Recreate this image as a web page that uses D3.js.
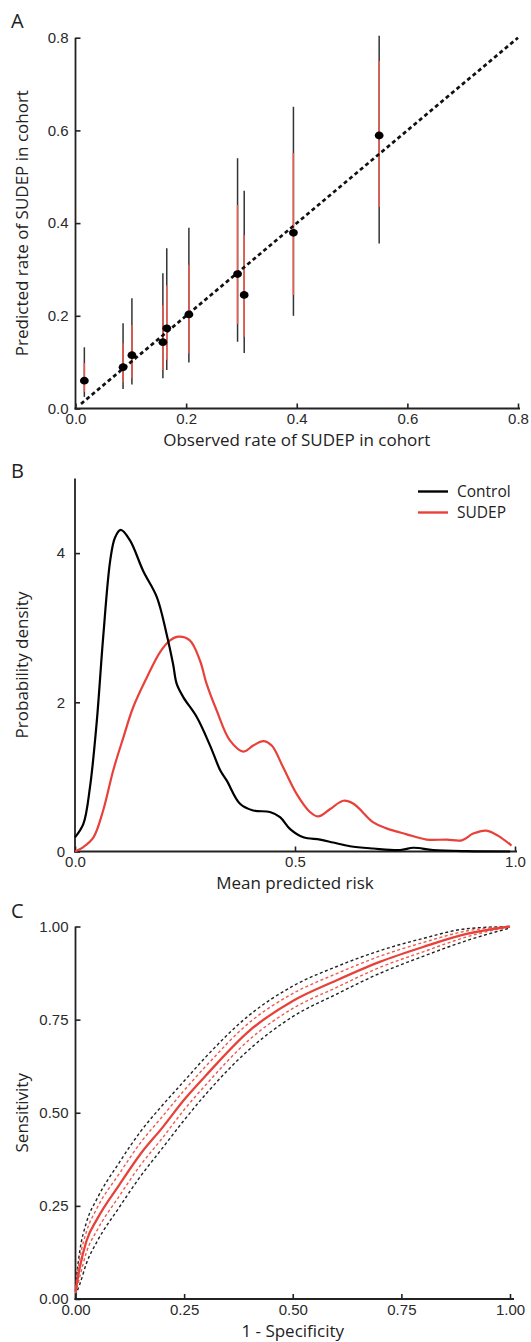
<!DOCTYPE html>
<html>
<head>
<meta charset="utf-8">
<script src="https://cdn.jsdelivr.net/npm/d3@7"></script>
<style>
  html, body { margin: 0; padding: 0; background: #fff; }
  svg { display: block; font-family: "Open Sans", "Noto Sans", sans-serif; }
  .tick text { font-size: 15px; fill: #2a2a2a; }
  .tick line { stroke: #222; stroke-width: 1.6; }
  .axlabel { font-size: 17px; fill: #222; }
  .legend { font-size: 15.5px; fill: #222; }
  .panel { font-size: 20px; fill: #222; }
</style>
</head>
<body>
<svg id="chart" width="531" height="1342"></svg>
<script>
// ---------- Panel A: calibration ----------
const obsRate   = [0.016, 0.086, 0.102, 0.158, 0.165, 0.205, 0.293, 0.305, 0.394, 0.549];
const predRate  = [0.060, 0.089, 0.115, 0.143, 0.173, 0.203, 0.290, 0.245, 0.379, 0.589];
const outerLow  = [0.025, 0.042, 0.052, 0.065, 0.083, 0.099, 0.144, 0.120, 0.200, 0.356];
const outerHigh = [0.132, 0.184, 0.238, 0.292, 0.346, 0.390, 0.540, 0.470, 0.651, 0.804];
const innerLow  = [0.036, 0.056, 0.066, 0.083, 0.105, 0.119, 0.182, 0.155, 0.245, 0.435];
const innerHigh = [0.098, 0.141, 0.180, 0.223, 0.266, 0.310, 0.439, 0.374, 0.551, 0.750];
const identityLine = [0.01, 0.80];
const aTicks = [0, 0.2, 0.4, 0.6, 0.8];

// ---------- Panel B: densities ----------
const controlX = [0.0, 0.019, 0.034, 0.049, 0.064, 0.080, 0.091, 0.104, 0.125, 0.155, 0.186, 0.208, 0.223, 0.231, 0.246, 0.277, 0.307, 0.330, 0.345, 0.375, 0.405, 0.443, 0.466, 0.489, 0.519, 0.557, 0.587, 0.625, 0.678, 0.739, 0.769, 0.814, 0.890, 0.989];
const controlY = [0.19, 0.37, 0.86, 1.71, 2.87, 3.90, 4.21, 4.31, 4.17, 3.76, 3.41, 2.92, 2.51, 2.25, 2.07, 1.80, 1.42, 1.09, 0.95, 0.64, 0.55, 0.53, 0.46, 0.30, 0.19, 0.16, 0.12, 0.07, 0.04, 0.02, 0.05, 0.02, 0.005, 0.0];
const sudepX = [0.0, 0.019, 0.042, 0.064, 0.087, 0.110, 0.132, 0.163, 0.193, 0.216, 0.235, 0.261, 0.284, 0.299, 0.322, 0.352, 0.383, 0.405, 0.428, 0.447, 0.473, 0.504, 0.534, 0.553, 0.580, 0.610, 0.633, 0.678, 0.708, 0.754, 0.799, 0.845, 0.879, 0.905, 0.935, 0.962, 0.992];
const sudepY = [0.0, 0.06, 0.19, 0.55, 1.09, 1.53, 1.93, 2.33, 2.67, 2.83, 2.88, 2.83, 2.56, 2.25, 1.89, 1.49, 1.34, 1.42, 1.48, 1.42, 1.13, 0.77, 0.53, 0.47, 0.57, 0.68, 0.64, 0.39, 0.31, 0.23, 0.16, 0.16, 0.15, 0.24, 0.28, 0.21, 0.08];
const bXTicks = [0, 0.5, 1.0];
const bYTicks = [0, 2, 4];
const legendNames = ["Control", "SUDEP"];

// ---------- Panel C: ROC ----------
const rocFpr     = [0, 0.01, 0.025, 0.05, 0.1, 0.15, 0.2, 0.25, 0.3, 0.4, 0.5, 0.6, 0.7, 0.8, 0.9, 1.0];
const rocMean    = [0.020, 0.085, 0.155, 0.215, 0.305, 0.390, 0.460, 0.535, 0.600, 0.720, 0.800, 0.855, 0.905, 0.945, 0.980, 1.000];
const rocRedHi   = [0.030, 0.110, 0.180, 0.245, 0.335, 0.420, 0.490, 0.560, 0.625, 0.742, 0.820, 0.873, 0.920, 0.957, 0.988, 1.000];
const rocRedLo   = [0.015, 0.060, 0.125, 0.185, 0.275, 0.360, 0.432, 0.508, 0.575, 0.696, 0.780, 0.836, 0.890, 0.932, 0.972, 1.000];
const rocBlackHi = [0.035, 0.130, 0.205, 0.270, 0.365, 0.450, 0.520, 0.585, 0.650, 0.762, 0.840, 0.892, 0.935, 0.968, 0.994, 1.000];
const rocBlackLo = [0.010, 0.040, 0.095, 0.155, 0.245, 0.330, 0.405, 0.480, 0.550, 0.670, 0.758, 0.818, 0.874, 0.920, 0.962, 0.996];
const cTicks = [0, 0.25, 0.5, 0.75, 1.0];

const RED = "#e8413a";
const RED_LIGHT = "#ee5a4e";
const INK = "#222";

const svg = d3.select("#chart");

function drawAxes(g, x, y, xTicks, yTicks, xFmt, yFmt, xExt, yPad) {
  const xa = d3.axisBottom(x).tickValues(xTicks).tickFormat(xFmt)
    .tickSizeInner(-5).tickSizeOuter(0).tickPadding(5);
  const ya = d3.axisLeft(y).tickValues(yTicks).tickFormat(yFmt)
    .tickSizeInner(-5).tickSizeOuter(0).tickPadding(yPad);
  const gx = g.append("g").attr("transform", `translate(0,${y.range()[0]})`).call(xa);
  const gy = g.append("g").attr("transform", `translate(${x.range()[0]},0)`).call(ya);
  gx.select(".domain").remove();
  gy.select(".domain").remove();
  gx.selectAll(".tick text").attr("dy", "0.71em");
  g.append("line")
    .attr("x1", x.range()[0] - 1).attr("x2", x.range()[1] + xExt)
    .attr("y1", y.range()[0]).attr("y2", y.range()[0])
    .attr("stroke", INK).attr("stroke-width", 1.8);
  g.append("line")
    .attr("x1", x.range()[0]).attr("x2", x.range()[0])
    .attr("y1", y.range()[0] + 1).attr("y2", y.range()[1])
    .attr("stroke", INK).attr("stroke-width", 1.8);
}

function axisLabels(g, x, y, xLabel, yLabel, xLabelY) {
  g.append("text").attr("class", "axlabel")
    .attr("x", (x.range()[0] + x.range()[1]) / 2).attr("y", xLabelY)
    .attr("text-anchor", "middle").text(xLabel);
  const cy = (y.range()[0] + y.range()[1]) / 2;
  g.append("text").attr("class", "axlabel")
    .attr("transform", `translate(28,${cy}) rotate(-90)`)
    .attr("text-anchor", "middle").text(yLabel);
}

// ================= Panel A =================
{
  const g = svg.append("g");
  const x = d3.scaleLinear().domain([0, 0.8]).range([75.5, 518]);
  const y = d3.scaleLinear().domain([0, 0.8]).range([408.5, 37.7]);
  drawAxes(g, x, y, aTicks, aTicks, d3.format(".1f"), d3.format(".1f"), 2, 7);

  const idx = d3.range(obsRate.length);
  g.append("g").selectAll("line").data(idx).join("line")
    .attr("x1", i => x(obsRate[i])).attr("x2", i => x(obsRate[i]))
    .attr("y1", i => y(outerLow[i])).attr("y2", i => y(outerHigh[i]))
    .attr("stroke", "#333").attr("stroke-width", 1.5);
  g.append("g").selectAll("line").data(idx).join("line")
    .attr("x1", i => x(obsRate[i])).attr("x2", i => x(obsRate[i]))
    .attr("y1", i => y(innerLow[i])).attr("y2", i => y(innerHigh[i]))
    .attr("stroke", RED_LIGHT).attr("stroke-width", 1.5);
  g.append("line")
    .attr("x1", x(identityLine[0])).attr("y1", y(identityLine[0]))
    .attr("x2", x(identityLine[1])).attr("y2", y(identityLine[1]))
    .attr("stroke", "#111").attr("stroke-width", 2.7).attr("stroke-dasharray", "4,3");
  g.append("g").selectAll("ellipse").data(idx).join("ellipse")
    .attr("cx", i => x(obsRate[i])).attr("cy", i => y(predRate[i]))
    .attr("rx", 4.4).attr("ry", 3.9).attr("fill", "#000");

  axisLabels(g, x, y, "Observed rate of SUDEP in cohort", "Predicted rate of SUDEP in cohort", 446);
  g.append("text").attr("class", "panel").attr("x", 11).attr("y", 28).text("A");
}

// ================= Panel B =================
{
  const g = svg.append("g");
  const x = d3.scaleLinear().domain([0, 1]).range([75, 515]);
  const y = d3.scaleLinear().domain([0, 5]).range([851.5, 478.5]);
  drawAxes(g, x, y, bXTicks, bYTicks, d3.format(".1f"), d3.format("d"), 2, 10);

  const line = d3.line().x(d => x(d[0])).y(d => y(d[1])).curve(d3.curveCatmullRom.alpha(0.5));
  const ctrl = d3.zip(controlX, controlY);
  const sud = d3.zip(sudepX, sudepY);
  g.append("path").attr("d", line(sud)).attr("fill", "none").attr("stroke", RED).attr("stroke-width", 2.2);
  g.append("path").attr("d", line(ctrl)).attr("fill", "none").attr("stroke", "#000").attr("stroke-width", 2.2);

  const colors = ["#000", RED];
  const lg = g.append("g");
  legendNames.forEach((name, i) => {
    const yy = 491.5 + i * 21;
    lg.append("line").attr("x1", 418).attr("x2", 448).attr("y1", yy).attr("y2", yy)
      .attr("stroke", colors[i]).attr("stroke-width", 2.4);
    lg.append("text").attr("x", 457).attr("y", yy + 5.5).attr("class", "legend").text(name);
  });

  axisLabels(g, x, y, "Mean predicted risk", "Probability density", 889);
  g.append("text").attr("class", "panel").attr("x", 11).attr("y", 478).text("B");
}

// ================= Panel C =================
{
  const g = svg.append("g");
  const x = d3.scaleLinear().domain([0, 1]).range([75.5, 510]);
  const y = d3.scaleLinear().domain([0, 1]).range([1299, 926.5]);
  drawAxes(g, x, y, cTicks, cTicks, d3.format(".2f"), d3.format(".2f"), 4, 7);

  const mk = arr => d3.line().x((d, i) => x(rocFpr[i])).y(d => y(d)).curve(d3.curveMonotoneX)(arr);
  g.append("path").attr("d", mk(rocBlackHi)).attr("fill", "none").attr("stroke", "#222")
    .attr("stroke-width", 1.4).attr("stroke-dasharray", "3,2.5");
  g.append("path").attr("d", mk(rocBlackLo)).attr("fill", "none").attr("stroke", "#222")
    .attr("stroke-width", 1.4).attr("stroke-dasharray", "3,2.5");
  g.append("path").attr("d", mk(rocRedHi)).attr("fill", "none").attr("stroke", RED_LIGHT)
    .attr("stroke-width", 1.4).attr("stroke-dasharray", "3,2.5");
  g.append("path").attr("d", mk(rocRedLo)).attr("fill", "none").attr("stroke", RED_LIGHT)
    .attr("stroke-width", 1.4).attr("stroke-dasharray", "3,2.5");
  g.append("path").attr("d", mk(rocMean)).attr("fill", "none").attr("stroke", RED)
    .attr("stroke-width", 2.3);

  axisLabels(g, x, y, "1 - Specificity", "Sensitivity", 1336.5);
  g.append("text").attr("class", "panel").attr("x", 11).attr("y", 918).text("C");
}
</script>
</body>
</html>
